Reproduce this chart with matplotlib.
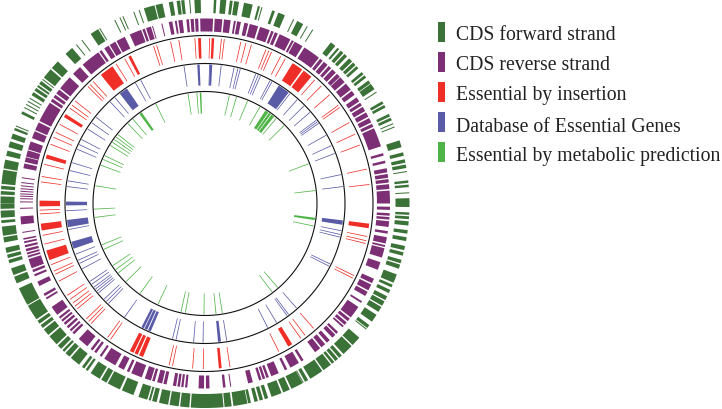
import numpy as np
import matplotlib
matplotlib.use("Agg")
import matplotlib.pyplot as plt
from matplotlib.patches import Rectangle

# gene positions in degrees, clockwise from the top of the circle
# (start, end) = block of genes, single number = one thin gene

forward_blocks = [(2.5, 3.2), (4.3, 6), (7, 7.8), (8.2, 9.6), (11, 13.5), (15, 15.6), (19.2, 20), (21, 23),
    (26.8, 28.7), (38, 39.6), (40.4, 41), (41.6, 42.6), (43, 44), (44.8, 46), (46.4, 47.4), (47.8, 48.6),
    (50, 50.8), (51.2, 52), (53, 54), (54.2, 56), (60, 60.8), (61.2, 62), (64, 64.8), (65.2, 66), (72, 74),
    (75.5, 76.5), (77.5, 78.5), (79, 80), (83.5, 84.2), (84.7, 85.4), (88.5, 91), (92.5, 93.2), (93.6, 94.4),
    (95, 96.2), (97.5, 98.5), (99.5, 100.6), (102, 103.2), (103.8, 104.8), (106, 107), (107.4, 108.6),
    (110.3, 112.8), (113.4, 114.2), (115, 116), (117, 118.2), (118.6, 120), (120.4, 122), (123, 125.3),
    (126.5, 127.5), (131, 133.8), (134.2, 137.4), (138, 139), (139.4, 140.4), (140.8, 141.6), (142, 144.6),
    (145, 149), (149.7, 150.7), (151.5, 155), (155.5, 157.5), (158, 161), (162, 163), (163.5, 164.5),
    (165, 166), (167, 167.8), (168, 172), (172.5, 174.5), (174.8, 180), (180, 184), (184.4, 187),
    (187.4, 190), (190.4, 193), (193.7, 195), (195.4, 196), (196.4, 199), (200.5, 204), (204.6, 208.4),
    (208.8, 210.5), (211, 214), (215, 215.7), (216.2, 217), (218, 221), (221.5, 223), (223.5, 224.2),
    (224.7, 226), (226.5, 229.5), (230, 232), (232.5, 233.5), (234, 235), (235.5, 240), (240.3, 245.5),
    (247, 249), (249.5, 251.5), (253, 254), (254.5, 255.5), (256, 257.5), (259, 260.5), (260.9, 263.5),
    (264.5, 265.3), (266, 268), (268.5, 270), (270, 272), (272.5, 273.5), (274, 275), (275.5, 279.5),
    (279.9, 282.4), (283.5, 285), (286, 287.7), (288.5, 290), (291, 291.7), (296, 296.8), (302, 303),
    (303.5, 304.4), (304.8, 305.4), (305.8, 306.8), (308, 311), (311.5, 314), (317, 319.5), (326, 328.5),
    (342.6, 345.7), (346, 348), (349.8, 351), (352, 353), (353.3, 354.2), (357, 358.8)]
forward_lines = [16.2, 25.7, 30, 31.8, 57, 67, 68, 81, 87, 127.9, 151.3, 162.5, 292.3, 300, 301, 307.4, 321, 323, 329,
    333.8, 335.4, 336.3, 339.6, 341.2, 355.7, 299, 298]

reverse_blocks = [(0, 2.5), (3, 5.4), (5.9, 8), (9, 9.6), (10, 11.2), (12.3, 13.5), (14, 16.7), (17.3, 20.5), (21, 21.8),
    (22.2, 23.2), (23.8, 27.5), (28, 28.7), (29, 31.8), (32.5, 38), (38.5, 39.5), (40, 41.5), (42, 43),
    (43.5, 45), (45.5, 46.8), (47, 49), (49.6, 52), (52.5, 54), (55, 56.5), (57, 58), (58.5, 60), (60.5, 62),
    (62.5, 64), (64.5, 65.5), (66, 72), (74.2, 75), (76.6, 77.4), (79, 80.3), (80.8, 82), (82.4, 83.5),
    (84, 85.5), (86, 90), (91, 92), (93, 93.8), (94.2, 95), (95.5, 97.3), (98.6, 99.4), (100.5, 102.5),
    (103, 103.6), (104, 107), (108.5, 111), (114, 115.5), (116, 118), (118.5, 120), (121.9, 122.5), (124, 128),
    (128.5, 129.5), (130, 131), (131.4, 132), (134, 134.8), (135.2, 136.5), (137.6, 138.8), (139.5, 141),
    (141.5, 143.5), (147.8, 148.6), (149.5, 152.5), (153.6, 154.4), (156.5, 159), (159.8, 160.6), (161, 161.8),
    (162.2, 163), (165, 166.5), (173.6, 174.4), (178.6, 179.7), (180.3, 182), (185.5, 186.2), (186.7, 187.4),
    (187.8, 188.6), (189, 190), (192, 193), (193.4, 195), (195.8, 196.6), (197, 199), (200, 203.5), (204.2, 205),
    (206, 208), (209, 213), (214, 214.7), (216, 216.8), (217.4, 218.2), (219.5, 223), (225, 225.8), (226.3, 227),
    (227.6, 228.4), (229, 229.8), (230.3, 231), (231.5, 232.2), (233, 236), (238.8, 239.4), (240, 240.8),
    (243.5, 245), (246.8, 247.5), (248.2, 249), (249.5, 252.5), (253, 253.6), (254, 254.6), (255, 255.8),
    (256.3, 257), (257.6, 258.2), (258.7, 259.2), (263.5, 266), (281, 282.5), (283, 284.5), (284.7, 286.7),
    (287, 289.6), (290.7, 293), (293.4, 296), (296.5, 303), (303.5, 304.5), (305, 306), (306.5, 308),
    (308.5, 313), (314.5, 317.5), (318.6, 324.8), (325.2, 326), (327, 328.6), (329, 331), (331.4, 334.3),
    (336, 339.8), (340.2, 341), (341.4, 343), (348.7, 349.8), (350.6, 351.2), (351.7, 353), (354.2, 355),
    (355.5, 356.5), (356.9, 357.9), (358.5, 360)]
reverse_lines = [172, 261, 268.5, 270.5, 271.5, 272.3, 273, 273.8, 274.6, 275.5, 276.5, 278, 343.5, 346.5]

insertion_blocks = [(2.3, 3.2), (32, 36), (36.6, 40), (97, 98.6), (148.2, 149.8), (174.2, 175.2),
    (202, 203.5), (204, 205.2), (205.6, 207), (250, 253.5), (260.6, 263), (269, 271), (285.8, 287.2),
    (301.5, 302.7), (321, 326), (332.4, 333.4), (357.6, 358.6)]
insertion_lines = [5.7, 6.7, 12.5, 14.3, 16.3, 21.6, 22.7, 23.7, 27.2, 29, 41.6, 44.7, 48.9, 53.6, 54.5, 60.7, 65.2,
    69.3, 78, 83.4, 101.5, 103, 104, 115.8, 116.8, 139, 142.8, 144.6, 153.5, 171.3, 180.6, 184.3, 191.3, 192.5,
    214.8, 216, 223.5, 224.6, 225.8, 230.5, 231.7, 233, 234.6, 236.3, 242, 244.7, 245.9, 248.3, 255.8, 258.9,
    266.4, 267.7, 277.5, 279.4, 283.7, 291, 293.6, 295.5, 298.6, 305.2, 306.5, 308.3, 315, 316, 317.5, 327.5,
    331, 341.9, 343, 348, 350.9, 356.5, 1.6]

database_blocks = [(2, 3), (32, 37), (97, 98.8), (173.4, 174.6), (203, 204.2), (204.6, 205.8), (206.1, 207.2),
    (251, 254), (260.2, 263.2), (269.2, 270.8), (322.2, 325.8), (356.8, 357.8)]
database_lines = [6.7, 12.1, 13.7, 14.7, 21.4, 22.5, 23.5, 27.9, 28.8, 37.7, 41.6, 45.4, 49, 53.2, 54, 54.8, 60.6,
    65.4, 68.9, 78, 83, 101.3, 102.9, 104, 115.8, 116.8, 138.8, 143, 143.8, 149, 153.2, 171, 180.8, 184.7, 192,
    193.5, 215.3, 224, 225.2, 226.5, 230, 231, 232, 233, 234.5, 235.9, 242, 244.5, 245.9, 248.6, 259.2, 267,
    277, 279.4, 283.7, 287.1, 293, 295.1, 297.4, 302.4, 305.5, 308.4, 317, 319.6, 330, 332.5, 351.3, 1.9]

metabolic_blocks = [(33, 34.8), (35.2, 36.4), (36.8, 38.5), (97.4, 98.6), (323.8, 325.2), (357.3, 358.1)]
metabolic_lines = [12.7, 16.5, 22.5, 29.6, 39.9, 45.4, 69, 83.3, 101.7, 139.1, 142.8, 171, 174.3, 180.5, 190.2, 192.5,
    205, 215.8, 225.3, 231.3, 233.5, 236, 245.6, 248.2, 262.8, 267.1, 279.2, 290.2, 293.4, 295.5, 301.5, 303.5,
    305.2, 306.8, 308.4, 316, 319.5, 333.7, 351.2, 355.8]

legend_labels = ["CDS forward strand", "CDS reverse strand", "Essential by insertion",
                 "Database of Essential Genes", "Essential by metabolic prediction"]
legend_colors = ["#3b7237", "#7c2f74", "#ee2e27", "#5a5ba6", "#4fb447"]
legend_tops = [22.7, 52.7, 82.7, 112.7, 142.7]
legend_baselines = [40, 70, 100, 132, 161.5]

W, H = 722, 410
CX, CY = 205, 204.5
RMAX = 206


def draw_track(ax, blocks, lines, r0, r1, color, line_px=0.75):
    starts = np.array([b[0] for b in blocks])
    ends = np.array([b[1] for b in blocks])
    ax.bar(np.radians((starts + ends) / 2), r1 - r0, width=np.radians(ends - starts), bottom=r0,
           color=color, linewidth=0)
    # thin genes keep about the same pixel width on every ring
    w = line_px / ((r0 + r1) / 2)
    ax.bar(np.radians(lines), r1 - r0, width=w, bottom=r0, color=color, linewidth=0)


fig = plt.figure(figsize=(W / 100, H / 100), dpi=100)
ax = fig.add_axes([(CX - RMAX) / W, 1 - (CY + RMAX) / H, 2 * RMAX / W, 2 * RMAX / H], projection="polar")
ax.set_theta_zero_location("N")
ax.set_theta_direction(-1)
ax.set_ylim(0, RMAX)
ax.axis("off")

draw_track(ax, forward_blocks, forward_lines, 190.5, 204.5, legend_colors[0], 1.0)
draw_track(ax, reverse_blocks, reverse_lines, 172, 185, legend_colors[1], 1.0)
draw_track(ax, insertion_blocks, insertion_lines, 145, 165.5, legend_colors[2])
draw_track(ax, database_blocks, database_lines, 118, 139, legend_colors[3])
draw_track(ax, metabolic_blocks, metabolic_lines, 90, 111, legend_colors[4])

circle = np.linspace(0, 2 * np.pi, 500)
for r in [168, 140, 112]:
    ax.plot(circle, np.full_like(circle, r), color="#111111", lw=0.8)

# legend in pixel coordinates
lax = fig.add_axes([0, 0, 1, 1])
lax.set_xlim(0, W)
lax.set_ylim(H, 0)
lax.axis("off")
for label, col, top, base in zip(legend_labels, legend_colors, legend_tops, legend_baselines):
    lax.add_patch(Rectangle((438, top), 6.5, 20, color=col, lw=0))
    lax.text(455.5, base, label, family="Liberation Serif", fontsize=14.2, color="#222222", va="baseline")

fig.savefig("out.png", dpi=100)
